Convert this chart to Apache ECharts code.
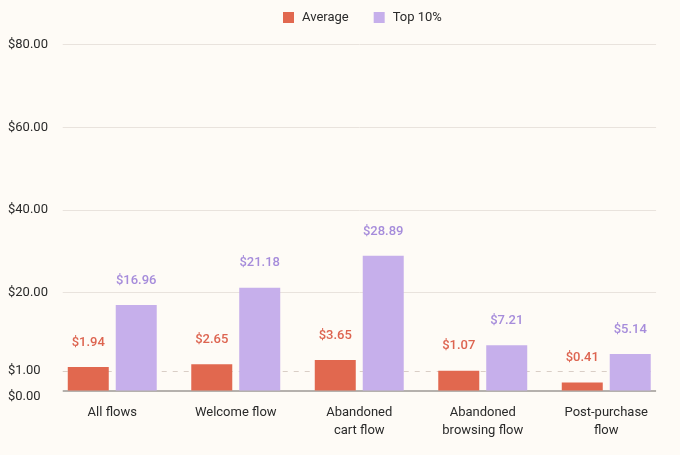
<!DOCTYPE html>
<html>
<head>
<meta charset="utf-8">
<script src="https://cdn.jsdelivr.net/npm/echarts@6/dist/echarts.min.js"></script>
<style>
  html, body { margin: 0; padding: 0; background: #FEFBF6; }
  #chart { width: 680px; height: 455px; }
</style>
</head>
<body>
<div id="chart"></div>
<script>
var categories = ['All flows', 'Welcome flow', 'Abandoned\ncart flow', 'Abandoned\nbrowsing flow', 'Post-purchase\nflow'];
var averageValues = [1.94, 2.65, 3.65, 1.07, 0.41];
var top10Values = [16.96, 21.18, 28.89, 7.21, 5.14];
var tickValues = [0, 1, 20, 40, 60, 80];
var tickLabels = ['$0.00', '$1.00', '$20.00', '$40.00', '$60.00', '$80.00'];

// the source chart squeezes 0..1 into its own band, everything above is linear
var LOW = 19.5, STEP = 4.13;
function scaleY(v) {
    return v <= 1 ? v * LOW : LOW + (v - 1) * STEP;
}

var chart = echarts.init(document.getElementById('chart'));

var gridFrom = 0.0198, gridTo = 0.9807;
var lineData = tickValues.filter(function (v) { return v > 1; }).map(function (v) {
    return [{ coord: [gridFrom, scaleY(v)] }, { coord: [gridTo, scaleY(v)] }];
});

var option = {
    backgroundColor: '#FEFBF6',
    textStyle: { fontFamily: 'Roboto' },
    legend: {
        top: 11,
        left: 283,
        padding: 0,
        itemWidth: 11,
        itemHeight: 11,
        itemGap: 25,
        icon: 'rect',
        textStyle: { fontSize: 13, color: '#2a2a2a', padding: [0, 0, 0, 3] },
        data: ['Average', 'Top 10%']
    },
    grid: { left: 50.5, right: 12, top: 44.7, bottom: 64.5 },
    xAxis: [{
        type: 'category',
        data: categories,
        axisLine: { show: false },
        axisTick: { show: false },
        axisLabel: { color: '#2a2a2a', fontSize: 13, lineHeight: 18, margin: 13 }
    }, {
        type: 'value',
        min: 0,
        max: 1,
        show: false
    }],
    yAxis: {
        type: 'value',
        min: 0,
        max: scaleY(80),
        splitLine: { show: false },
        axisLine: { show: false },
        axisTick: { show: false },
        axisLabel: {
            customValues: tickValues.map(scaleY),
            align: 'left',
            margin: 42.5,
            color: '#2a2a2a',
            fontSize: 13,
            formatter: function (val) {
                for (var i = 0; i < tickValues.length; i++) {
                    if (Math.abs(scaleY(tickValues[i]) - val) < 0.01) {
                        return i === 0 ? '{lo|' + tickLabels[i] + '}' : tickLabels[i];
                    }
                }
                return '';
            },
            rich: {
                lo: { fontSize: 13, color: '#2a2a2a', padding: [12, 0, 0, 0] }
            }
        }
    },
    series: [{
        name: 'Average',
        type: 'bar',
        barWidth: 41,
        barGap: '17%',
        itemStyle: { color: '#E1684F' },
        data: averageValues.map(scaleY),
        label: {
            show: true,
            position: 'top',
            distance: 18,
            color: '#DD6450',
            fontSize: 13,
            fontWeight: 500,
            formatter: function (p) { return '$' + averageValues[p.dataIndex].toFixed(2); }
        },
        z: 10
    }, {
        name: 'Top 10%',
        type: 'bar',
        barWidth: 41,
        itemStyle: { color: '#C6AFEB' },
        data: top10Values.map(scaleY),
        label: {
            show: true,
            position: 'top',
            distance: 18,
            color: '#A68CDB',
            fontSize: 13,
            fontWeight: 500,
            formatter: function (p) { return '$' + top10Values[p.dataIndex].toFixed(2); }
        },
        z: 10
    }, {
        name: 'grid',
        type: 'line',
        xAxisIndex: 1,
        data: [],
        silent: true,
        z: 1,
        markLine: {
            silent: true,
            symbol: 'none',
            z: 1,
            label: { show: false },
            animation: false,
            data: lineData.concat([
                [{ coord: [gridFrom, scaleY(1)], lineStyle: { color: '#D9CEC6', type: [5, 6], width: 1 } },
                 { coord: [gridTo, scaleY(1)] }],
                [{ coord: [gridFrom, 0], lineStyle: { color: '#9C9894', type: 'solid', width: 1.5 } },
                 { coord: [gridTo, 0] }]
            ]),
            lineStyle: { color: '#E9E3DD', type: 'solid', width: 1 }
        }
    }]
};

chart.setOption(option);
</script>
</body>
</html>
